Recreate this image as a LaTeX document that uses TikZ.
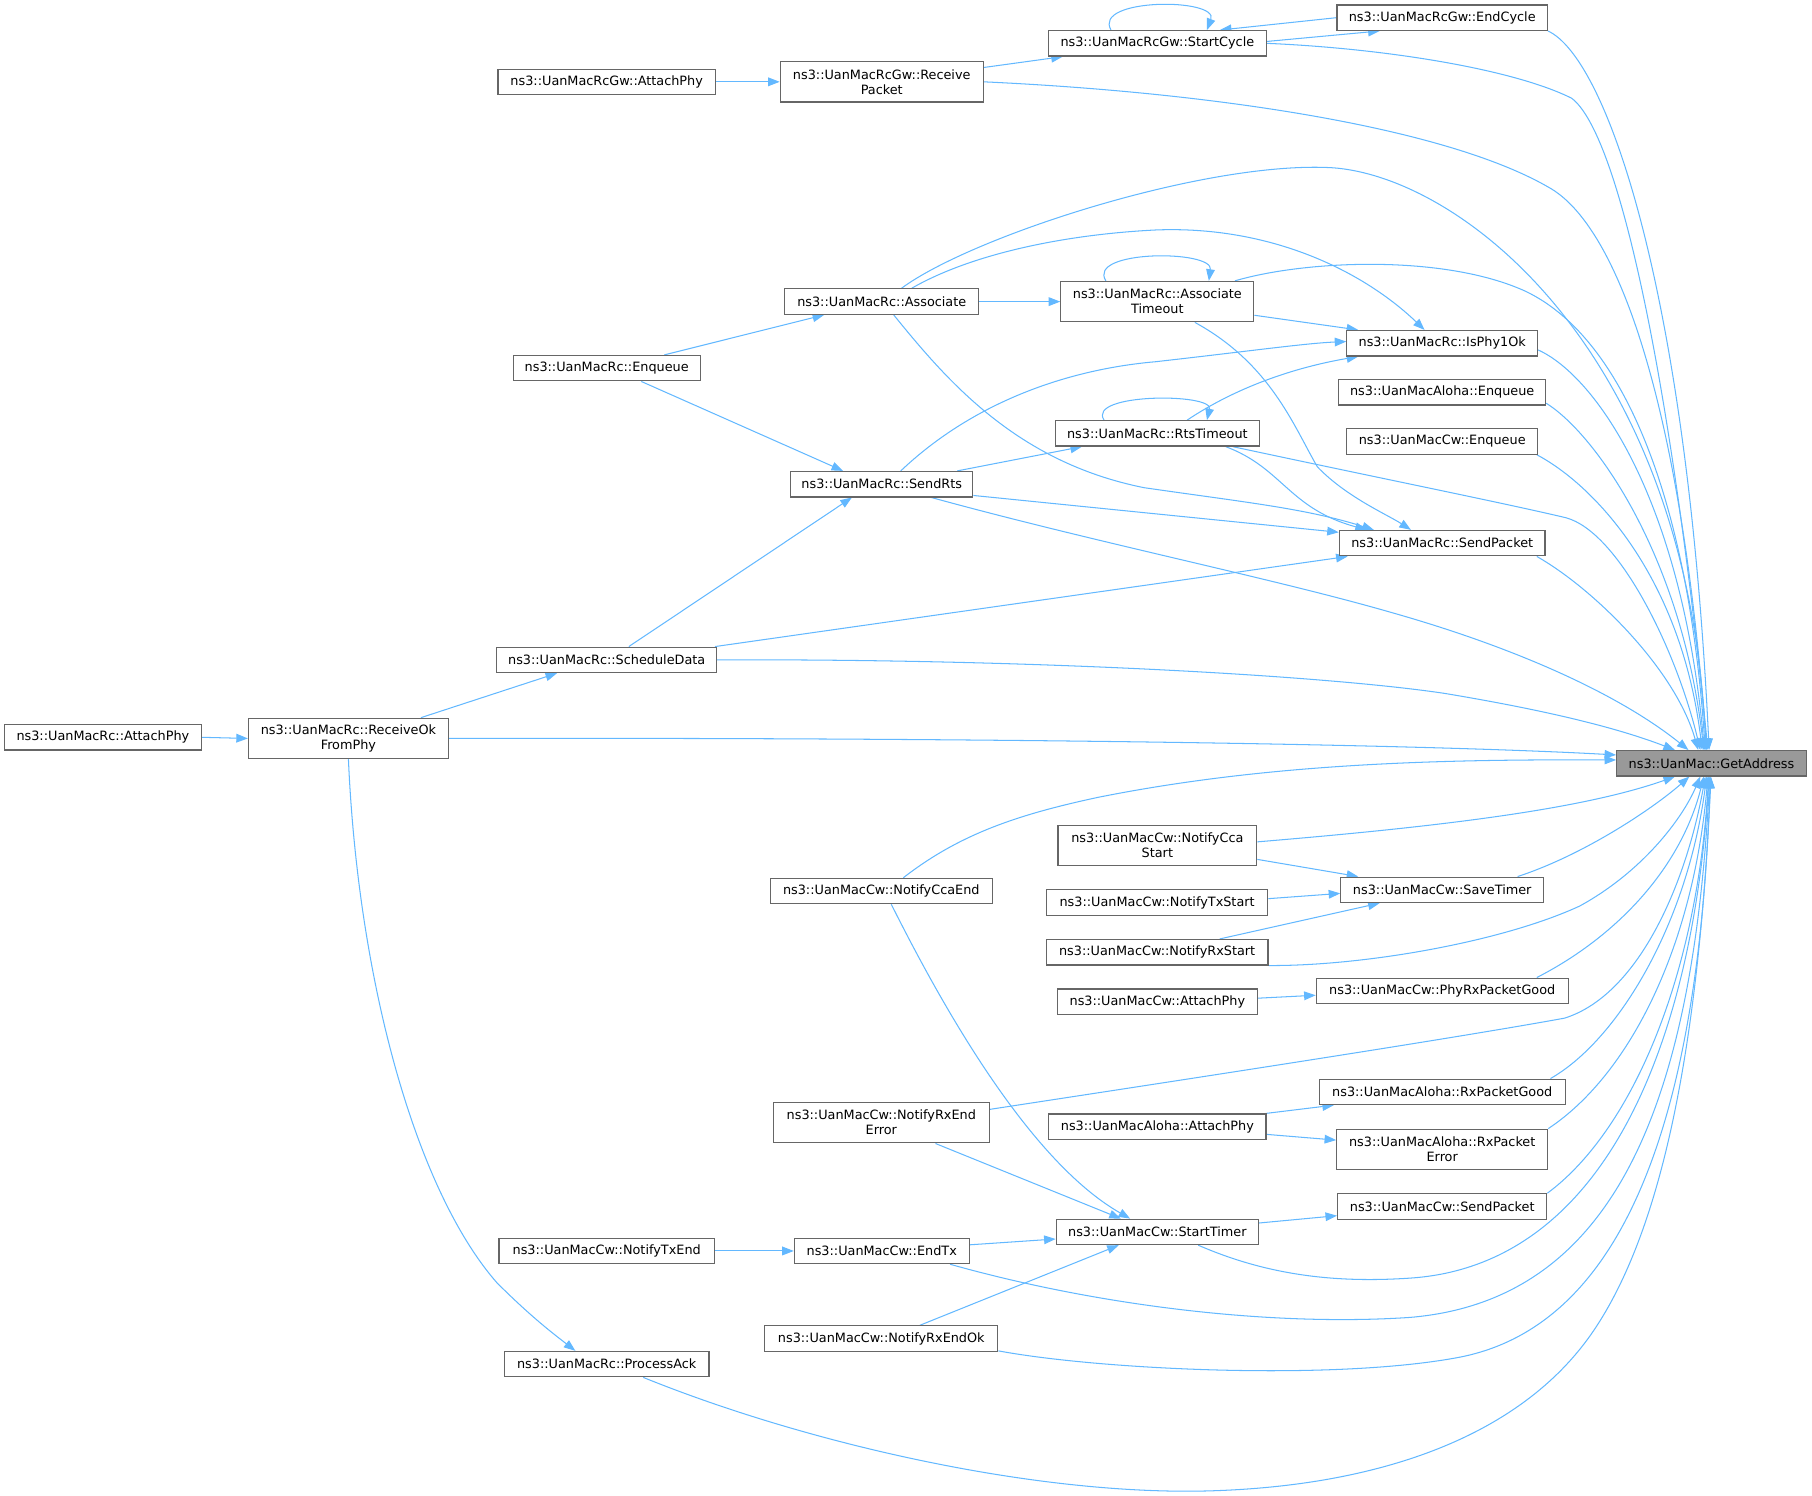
\documentclass[tikz,border=0pt]{standalone}
\usepackage{fontspec}
\setmainfont{DejaVu Sans}
\usetikzlibrary{arrows.meta,backgrounds}
\definecolor{edgeblue}{HTML}{63B8FF}
\definecolor{nodeborder}{HTML}{666666}
\definecolor{gafill}{HTML}{999999}
\begin{document}
\begin{tikzpicture}[x={(1pt,0pt)}, y={(0pt,-1pt)},
  fn/.style={draw=nodeborder, line width=1pt, fill=white, inner sep=0pt, minimum height=22pt, align=center, font=\fontsize{11.1}{13}\selectfont},
  fn2/.style={fn, minimum height=35pt},
  ga/.style={fn, fill=gafill},
  e/.style={draw=edgeblue, line width=0.9pt, -{Triangle[length=10pt,width=7.5pt]}},
]
\useasboundingbox (0,0) rectangle (1568,1294);

\node[ga, minimum width=164pt] (GA) at (1481,660.5) {ns3::UanMac::GetAddress};
\node[fn, minimum width=182pt] (EndCycle) at (1248,15.3) {ns3::UanMacRcGw::EndCycle};
\node[fn, minimum width=189pt] (StartCycle) at (1001.5,37.5) {ns3::UanMacRcGw::StartCycle};
\node[fn2, minimum width=175.6pt] (ReceivePacket) at (763,70.8) {ns3::UanMacRcGw::Receive\\Packet};
\node[fn, minimum width=188pt] (RcGwAttachPhy) at (525,70.8) {ns3::UanMacRcGw::AttachPhy};
\node[fn, minimum width=168pt] (Associate) at (763,261) {ns3::UanMacRc::Associate};
\node[fn2, minimum width=167pt] (AssociateTimeout) at (1001.5,261) {ns3::UanMacRc::Associate\\Timeout};
\node[fn, minimum width=165pt] (IsPhy1Ok) at (1248,297) {ns3::UanMacRc::IsPhy1Ok};
\node[fn, minimum width=162pt] (RcEnqueue) at (525,318.6) {ns3::UanMacRc::Enqueue};
\node[fn, minimum width=179pt] (AlohaEnqueue) at (1248,339.5) {ns3::UanMacAloha::Enqueue};
\node[fn, minimum width=165.5pt] (CwEnqueue) at (1248,382) {ns3::UanMacCw::Enqueue};
\node[fn, minimum width=177pt] (RtsTimeout) at (1001.5,375) {ns3::UanMacRc::RtsTimeout};
\node[fn, minimum width=157.6pt] (SendRts) at (763,419) {ns3::UanMacRc::SendRts};
\node[fn, minimum width=178pt] (RcSendPacket) at (1248,470) {ns3::UanMacRc::SendPacket};
\node[fn, minimum width=190pt] (ScheduleData) at (525,571) {ns3::UanMacRc::ScheduleData};
\node[fn2, minimum width=173pt] (ReceiveOkFromPhy) at (301.5,639) {ns3::UanMacRc::ReceiveOk\\FromPhy};
\node[fn, minimum width=170pt] (RcAttachPhy) at (89,638) {ns3::UanMacRc::AttachPhy};
\node[fn2, minimum width=172pt] (NotifyCcaStart) at (1001.5,731.5) {ns3::UanMacCw::NotifyCca\\Start};
\node[fn, minimum width=192pt] (NotifyCcaEnd) at (762.6,771) {ns3::UanMacCw::NotifyCcaEnd};
\node[fn, minimum width=191.4pt] (NotifyTxStart) at (1001.3,781) {ns3::UanMacCw::NotifyTxStart};
\node[fn, minimum width=175.5pt] (SaveTimer) at (1248,770) {ns3::UanMacCw::SaveTimer};
\node[fn, minimum width=192pt] (NotifyRxStart) at (1001.3,824) {ns3::UanMacCw::NotifyRxStart};
\node[fn, minimum width=218pt] (PhyRxPacketGood) at (1248,857.4) {ns3::UanMacCw::PhyRxPacketGood};
\node[fn, minimum width=173pt] (CwAttachPhy) at (1001.5,866.8) {ns3::UanMacCw::AttachPhy};
\node[fn, minimum width=212.7pt] (AlohaRxPacketGood) at (1248,944.8) {ns3::UanMacAloha::RxPacketGood};
\node[fn2, minimum width=186.7pt] (NotifyRxEndError) at (762.6,971.5) {ns3::UanMacCw::NotifyRxEnd\\Error};
\node[fn, minimum width=188pt] (AlohaAttachPhy) at (1001.5,975) {ns3::UanMacAloha::AttachPhy};
\node[fn2, minimum width=182.6pt] (AlohaRxPacketError) at (1248,994.6) {ns3::UanMacAloha::RxPacket\\Error};
\node[fn, minimum width=181pt] (CwSendPacket) at (1248,1044) {ns3::UanMacCw::SendPacket};
\node[fn, minimum width=175pt] (StartTimer) at (1001.5,1066) {ns3::UanMacCw::StartTimer};
\node[fn, minimum width=186.3pt] (NotifyTxEnd) at (525,1082.5) {ns3::UanMacCw::NotifyTxEnd};
\node[fn, minimum width=151.2pt] (EndTx) at (763,1082.5) {ns3::UanMacCw::EndTx};
\node[fn, minimum width=201.8pt] (NotifyRxEndOk) at (762.6,1158.3) {ns3::UanMacCw::NotifyRxEndOk};
\node[fn, minimum width=177pt] (ProcessAck) at (525,1180.4) {ns3::UanMacRc::ProcessAck};

\begin{pgfonlayer}{background}
% edges into GetAddress
\draw[e] (EndCycle.south east) .. controls (1390,50) and (1460,250) .. (GA.100);
\draw[e] (StartCycle.east) .. controls (1200,42) and (1310,60) .. (1360,85) .. controls (1400,115) and (1445,320) .. (GA.105);
\draw[e] (ReceivePacket.east) .. controls (1050,80) and (1250,110) .. (1340,162) .. controls (1400,195) and (1455,350) .. (GA.110);
\draw[e] (Associate.34) .. controls (840,205) and (1040,140) .. (1150,145) .. controls (1260,150) and (1460,300) .. (GA.112);
\draw[e] (AssociateTimeout.15) .. controls (1130,225) and (1250,220) .. (1320,252) .. controls (1400,290) and (1460,420) .. (GA.115);
\draw[e] (IsPhy1Ok.-4) .. controls (1380,325) and (1455,430) .. (GA.118);
\draw[e] (AlohaEnqueue.-6) .. controls (1380,375) and (1455,480) .. (GA.120);
\draw[e] (CwEnqueue.-8) .. controls (1380,420) and (1455,500) .. (GA.125);
\draw[e] (RtsTimeout.-10) .. controls (1200,415) and (1300,435) .. (1355,448) .. controls (1400,460) and (1450,560) .. (GA.130);
\draw[e] (RcSendPacket.-8.6) .. controls (1380,510) and (1450,580) .. (GA.135);
\draw[e] (SendRts.-15.5) .. controls (950,470) and (1100,500) .. (1204,530) .. controls (1310,560) and (1400,600) .. (GA.150);
\draw[e] (ScheduleData.east) .. controls (900,570) and (1150,585) .. (1250,600) .. controls (1340,615) and (1400,630) .. (GA.160);
\draw[e] (ReceiveOkFromPhy.east) .. controls (900,638) and (1250,645) .. (GA.175.5);
\draw[e] (NotifyCcaEnd.31) .. controls (830,722) and (880,705) .. (950,690) .. controls (1100,660) and (1250,657) .. (GA.178.3);
\draw[e] (NotifyCcaStart.2) .. controls (1250,715) and (1370,700) .. (GA.200);
\draw[e] (SaveTimer.10.6) .. controls (1370,740) and (1430,700) .. (GA.211);
\draw[e] (NotifyRxStart.south east) .. controls (1180,836) and (1300,815) .. (1367,784) .. controls (1420,755) and (1455,710) .. (GA.230);
\draw[e] (PhyRxPacketGood.8.3) .. controls (1400,810) and (1455,750) .. (GA.240);
\draw[e] (NotifyRxEndError.7.8) .. controls (1000,938) and (1250,900) .. (1354,881) .. controls (1420,860) and (1460,760) .. (GA.245);
\draw[e] (AlohaRxPacketGood.7.7) .. controls (1400,900) and (1460,800) .. (GA.250);
\draw[e] (AlohaRxPacketError.north east) .. controls (1410,930) and (1465,820) .. (GA.255);
\draw[e] (CwSendPacket.north east) .. controls (1410,980) and (1468,850) .. (GA.258);
\draw[e] (StartTimer.-18) .. controls (1100,1105) and (1160,1110) .. (1220,1106) .. controls (1390,1095) and (1465,900) .. (GA.260);
\draw[e] (EndTx.-11.6) .. controls (950,1130) and (1100,1148) .. (1220,1140) .. controls (1400,1125) and (1465,950) .. (GA.263);
\draw[e] (NotifyRxEndOk.-6.9) .. controls (950,1185) and (1150,1195) .. (1260,1175) .. controls (1400,1150) and (1470,980) .. (GA.265);
\draw[e] (ProcessAck.-20.8) .. controls (700,1250) and (900,1295) .. (1050,1290) .. controls (1200,1285) and (1320,1240) .. (1380,1150) .. controls (1440,1060) and (1470,900) .. (GA.268);

% other edges
\draw[e] (EndCycle.west) -- (StartCycle.12);
\draw[e] (StartCycle.1) -- (EndCycle.192);
\draw[e] (StartCycle.164) .. controls (945,-2) and (1055,-2) .. (StartCycle.15);
\draw[e] (ReceivePacket.8) -- (StartCycle.188);
\draw[e] (RcGwAttachPhy.east) -- (ReceivePacket.west);
\draw[e] (RcEnqueue.13.4) -- (Associate.193);
\draw[e] (Associate.east) -- (AssociateTimeout.west);
\draw[e] (AssociateTimeout.158.4) .. controls (940,216) and (1050,216) .. (AssociateTimeout.22.5);
\draw[e] (AssociateTimeout.-8.5) -- (IsPhy1Ok.171.5);
\draw[e] (Associate.24) .. controls (840,220) and (920,203) .. (1000,199) .. controls (1100,195) and (1180,235) .. (IsPhy1Ok.143.75);
\draw[e] (SendRts.35.4) .. controls (840,350) and (920,320) .. (1000,313) .. controls (1080,304) and (1130,297) .. (IsPhy1Ok.179);
\draw[e] (RtsTimeout.24.6) .. controls (1070,335) and (1120,318) .. (IsPhy1Ok.189);
\draw[e] (RtsTimeout.166) .. controls (940,340) and (1050,340) .. (RtsTimeout.15);
\draw[e] (SendRts.10) -- (RtsTimeout.190.4);
\draw[e] (RcEnqueue.-21.7) -- (SendRts.161.6);
\draw[e] (ScheduleData.31.4) -- (SendRts.204.6);
\draw[e] (Associate.-48.3) .. controls (820,330) and (880,400) .. (990,422) .. controls (1080,435) and (1130,440) .. (RcSendPacket.169.5);
\draw[e] (AssociateTimeout.-29) .. controls (1100,315) and (1120,370) .. (1140,404) .. controls (1165,430) and (1200,445) .. (RcSendPacket.157);
\draw[e] (RtsTimeout.-11.4) .. controls (1110,405) and (1115,440) .. (RcSendPacket.170.5);
\draw[e] (SendRts.-7) -- (RcSendPacket.174);
\draw[e] (ScheduleData.7.6) -- (RcSendPacket.188);
\draw[e] (ReceiveOkFromPhy.16.2) -- (ScheduleData.195.4);
\draw[e] (RcAttachPhy.east) -- (ReceiveOkFromPhy.west);
\draw[e] (ReceiveOkFromPhy.south) .. controls (310,850) and (360,1030) .. (430,1110) .. controls (460,1140) and (480,1155) .. (ProcessAck.157.6);
\draw[e] (NotifyCcaStart.-8.8) -- (SaveTimer.171.4);
\draw[e] (NotifyTxStart.2.6) -- (SaveTimer.182.6);
\draw[e] (NotifyRxStart.12.1) -- (SaveTimer.192.5);
\draw[e] (CwAttachPhy.2) -- (PhyRxPacketGood.182.2);
\draw[e] (AlohaAttachPhy.7) -- (AlohaRxPacketGood.187);
\draw[e] (AlohaAttachPhy.-4.5) -- (AlohaRxPacketError.175.1);
\draw[e] (StartTimer.5) -- (CwSendPacket.185.7);
\draw[e] (NotifyCcaEnd.-53.3) .. controls (830,900) and (900,1010) .. (StartTimer.154);
\draw[e] (NotifyRxEndError.-21.1) -- (StartTimer.160);
\draw[e] (EndTx.4.6) -- (StartTimer.184.4);
\draw[e] (NotifyRxEndOk.19.8) -- (StartTimer.199);
\draw[e] (NotifyTxEnd.east) -- (EndTx.west);
\end{pgfonlayer}
\end{tikzpicture}
\end{document}
